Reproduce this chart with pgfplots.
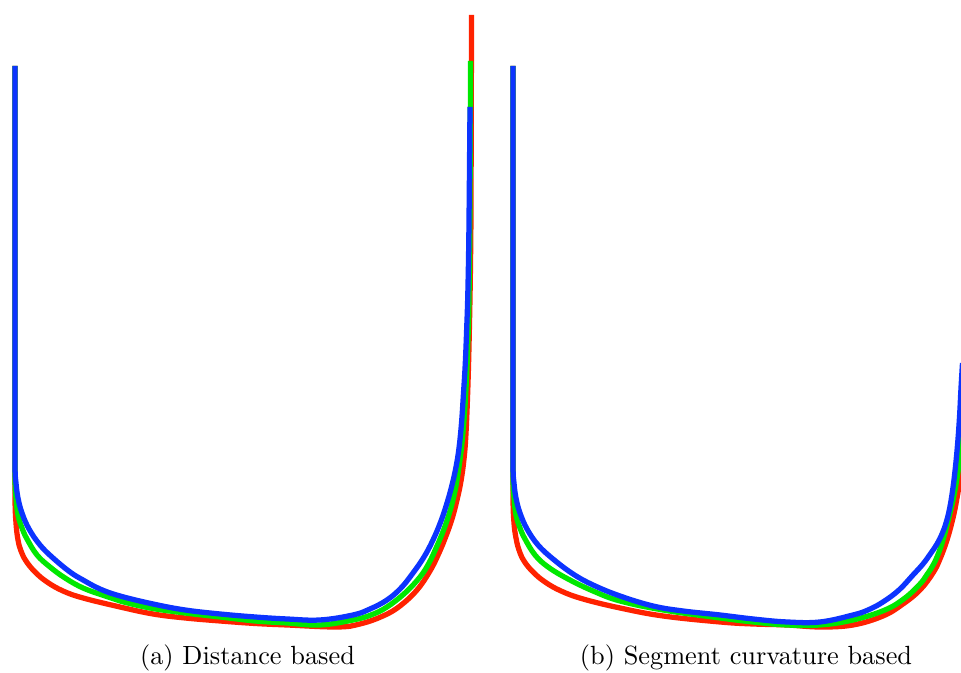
\documentclass[border=0pt]{standalone}
\usepackage{pgfplots}
\usepackage{pgfplotstable}
\pgfplotsset{compat=1.18}
\definecolor{cred}{RGB}{255,34,0}
\definecolor{cgreen}{RGB}{0,232,0}
\definecolor{cblue}{RGB}{12,52,255}

% panel (a): u = horizontal offset from left edge, v = height (px units)
\pgfplotstableread{
u v
0 607
0 260
0 207
1 190
3 175
7 160
14 144
25 128
38 115
55 101
68 93
85 84
105 77
138 69
170 63
205 59
240 56
272 54
305 53
338 58
355 64
372 73
386 85
398 100
409 116
418 133
426 152
432 170
437 188
441 206
444 225
446.5 250
448.5 280
450.3 310
451.7 345
452.7 375
453.6 420
454.2 473
455 566
}\aBlue
\pgfplotstableread{
u v
0 607
0 250
0 195
1 175
3 158
7 145
12 134
22 118
35 106
50 95
68 85
90 77
105 72
135 65
170 60
205 56
240 52
272 50
305 48
338 53
356 58
372 66
390 80
405 96
414 110
422 127
429 144
435 162
440 182
444 206
447 230
449.5 260
451.5 295
453 335
454 375
455 473
455.5 612
}\aGreen
\pgfplotstableread{
u v
0 607
0 230
0 175
1 150
3 133
6 122
11 112
20 101
32 91
48 82
68 75
105 66
138 59
170 55
205 52
240 49.5
272 48
322 46
345 49
368 57
385 67
402 83
415 102
424 120
431 137
437 154
442 173
446 192
449 214
451 240
453 290
454.5 350
455.5 410
456 473
456.5 658
}\aRed

% panel (b)
\pgfplotstableread{
u v
0 607
0 260
0 207
1 190
3 175
7 160
14 144
25 128
40 114
60 99
80 88
107 77
140 67
170 62
207 58
240 54
274 51
307 51
340 58
355 63
370 71
386 83
400 98
410 109
418 120
424 129
429 139
433 150
436.5 164
439.5 182
442 202
444.5 228
446.5 256
448 285
449.5 310
}\bBlue
\pgfplotstableread{
u v
0 607
0 250
0 195
1 175
3 158
7 145
12 134
22 118
35 106
55 94
80 82
107 72
150 63
207 55
240 51
274 48
307 48
340 53
372 63
392 75
407 89
413 97
419 106
424 116
430 133
437 160
442 183
448 222
452 260
456 310
}\bGreen
\pgfplotstableread{
u v
0 607
0 230
0 175
1 150
3 135
6 123
11 112
20 101
32 91
48 82
70 74
107 65
150 57
207 51
240 49
274 48
307 46
340 48
370 57
390 69
407 83
420 100
427 114
434 133
440 155
444 175
448 200
452 235
455 280
}\bRed

\pgfplotsset{
  panel/.style={
    hide axis, clip=true,
    x=0.38pt, y=0.38pt,
    ymin=0, ymax=673,
    anchor=south west,
  },
  crv/.style={line width=2pt, smooth, tension=0.65, mark=none},
}

\begin{document}
\begin{tikzpicture}
\useasboundingbox (0,0) rectangle (365.18pt,255.74pt);
\begin{axis}[panel, at={(0pt,0pt)}, xmin=-15, xmax=475]
\addplot[crv, cred] table {\aRed};
\addplot[crv, cgreen] table {\aGreen};
\addplot[crv, cblue] table {\aBlue};
\end{axis}
\begin{axis}[panel, at={(189.24pt,0pt)}, xmin=-15, xmax=448]
\addplot[crv, cred] table {\bRed};
\addplot[crv, cgreen] table {\bGreen};
\addplot[crv, cblue] table {\bBlue};
\end{axis}
\node[inner sep=0pt] at (94.05pt,5.7pt) {(a) Distance based};
\node[inner sep=0pt] at (283.48pt,5.7pt) {(b) Segment curvature based};
\end{tikzpicture}
\end{document}
